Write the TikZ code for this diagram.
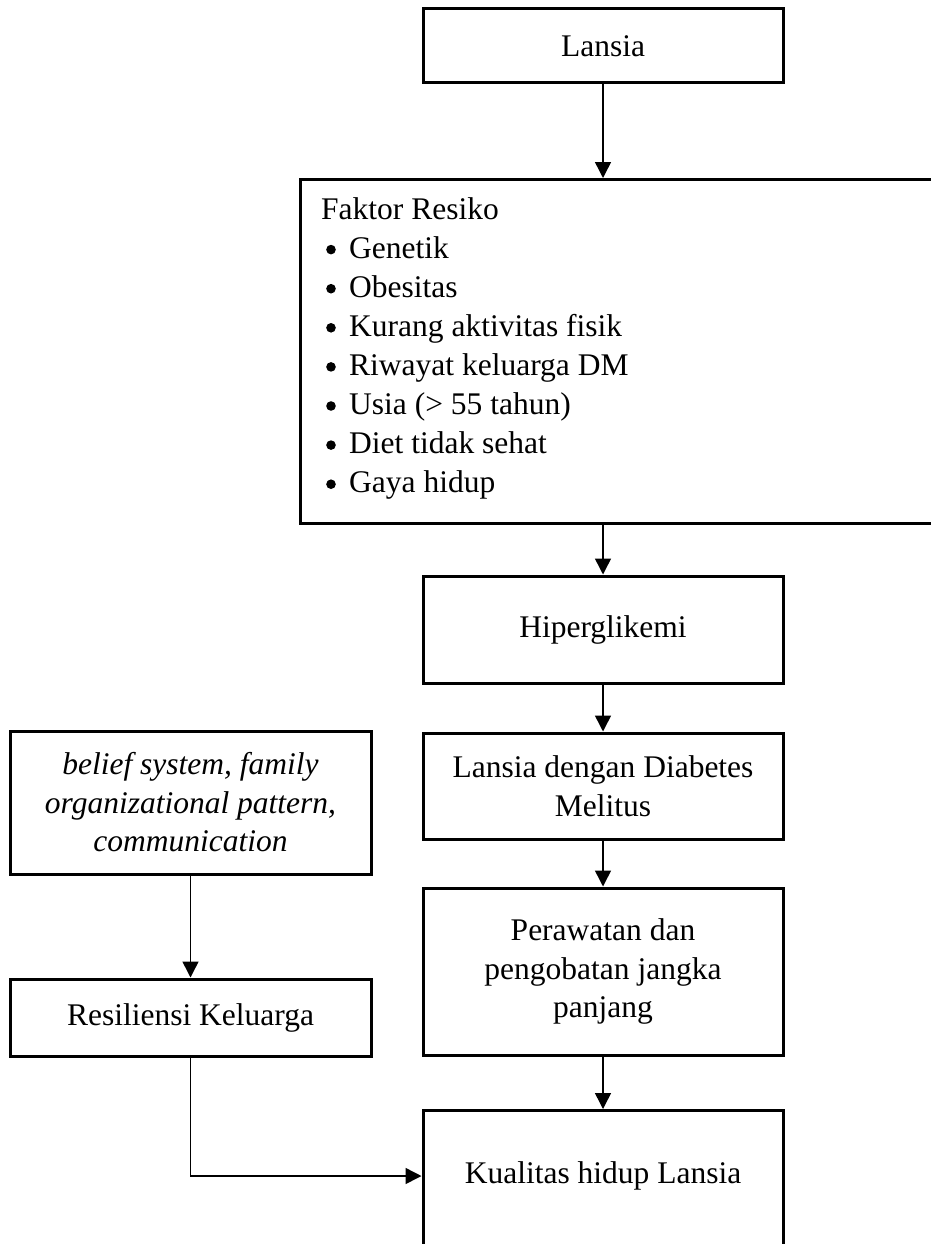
\documentclass[tikz,border=0pt]{standalone}
\usepackage{fontspec}
\setmainfont{Liberation Serif}
\usetikzlibrary{arrows.meta}
\begin{document}
\begin{tikzpicture}[x=1pt,y=-1pt,
  every node/.style={font=\fontsize{31.5}{38.5}\selectfont},
  box/.style={draw,line width=3pt,inner sep=0pt,align=center},
  txt/.style={inner sep=0pt,anchor=base west},
  arr/.style={line width=1.5pt,-{Triangle[width=16pt,length=16pt]}}]
\useasboundingbox (0,0) rectangle (930,1244);
% right column
\node[box,minimum width=360pt,minimum height=74pt] (lansia) at (603,46) {Lansia};
\node[box,anchor=north west,minimum width=641pt,minimum height=344pt] (fr) at (299,178) {};
\node[txt] (fr0) at (321,219) {Faktor Resiko};
\node[txt] (fr1) at (349,258.1) {Genetik};
\node[txt] (fr2) at (349,297.2) {Obesitas};
\node[txt] (fr3) at (349,336.3) {Kurang aktivitas fisik};
\node[txt] (fr4) at (349,375.4) {Riwayat keluarga DM};
\node[txt] (fr5) at (349,414.5) {Usia (> 55 tahun)};
\node[txt] (fr6) at (349,453.6) {Diet tidak sehat};
\node[txt] (fr7) at (349,492.7) {Gaya hidup};
\foreach \i in {1,...,7} \fill ([xshift=-18pt,yshift=8.5pt]fr\i.base west) circle (4.8pt);
\node[box,minimum width=360pt,minimum height=107pt] (hip) at (603,629.5) {Hiperglikemi};
\node[box,minimum width=360pt,minimum height=106pt] (ldm) at (603,786) {Lansia dengan Diabetes\\Melitus};
\node[box,minimum width=360pt,minimum height=167pt] (per) at (603,971.5) {Perawatan dan\\pengobatan jangka\\panjang};
\node[box,anchor=north,minimum width=360pt,minimum height=145pt] (kual) at (603,1109) {};
\node (kualt) at (603,1176) {Kualitas hidup Lansia};
% left column
\node[box,minimum width=361pt,minimum height=143pt,font=\fontsize{31.5}{38.5}\selectfont\itshape] (bel) at (190.5,802.5) {belief system, family\\organizational pattern,\\communication};
\node[box,minimum width=361pt,minimum height=77pt] (res) at (190.5,1017.5) {Resiliensi Keluarga};
% connectors
\draw[arr] (lansia.south) -- (lansia.south |- fr.north);
\draw[arr] (lansia.south |- fr.south) -- (hip.north);
\draw[arr] (hip.south) -- (ldm.north);
\draw[arr] (ldm.south) -- (per.north);
\draw[arr] (per.south) -- (kual.north);
\draw[arr] (bel.south) -- (res.north);
\draw[arr] (res.south) |- (kual.west |- kualt.center);
\end{tikzpicture}
\end{document}
